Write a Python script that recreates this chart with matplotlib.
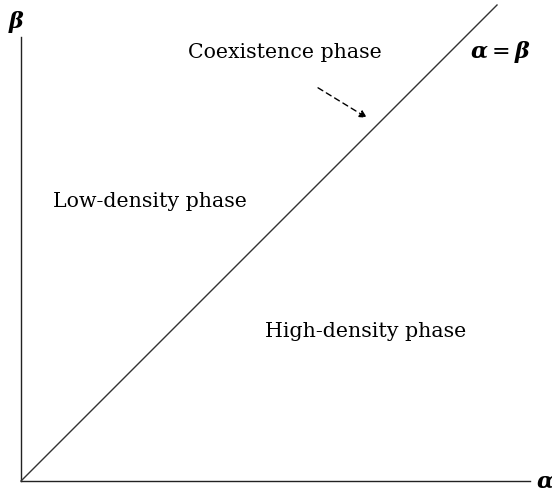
import matplotlib
matplotlib.use('Agg')
import matplotlib.pyplot as plt

plt.rcParams['mathtext.fontset'] = 'dejavuserif'

# phase boundary alpha = beta
boundary_alpha = [0.0, 1.0]
boundary_beta = [0.0, 1.0]

axis_end_x = 1.069
axis_end_y = 0.933

region_labels = ['Low-density phase', 'High-density phase', 'Coexistence phase']
region_pos = [(0.271, 0.588), (0.723, 0.315), (0.555, 0.901)]

arrow_start = (0.624, 0.826)
arrow_end = (0.727, 0.763)

fig = plt.figure(figsize=(5.52, 4.94), dpi=100)
ax = fig.add_axes([0, 0, 1, 1])
ax.set_xlim(-0.0441, 1.1155)
ax.set_ylim(-0.0273, 1.0105)
ax.axis('off')

font = 'DejaVu Serif'

ax.plot([0, axis_end_x], [0, 0], color='#222222', lw=1.0)
ax.plot([0, 0], [0, axis_end_y], color='#222222', lw=1.0)
ax.plot(boundary_alpha, boundary_beta, color='#333333', lw=1.0)

for label, (x, y) in zip(region_labels, region_pos):
    ax.text(x, y, label, ha='center', va='center', fontsize=14.8, family=font)

ax.annotate('', xy=arrow_end, xytext=arrow_start,
            arrowprops=dict(arrowstyle='-|>', linestyle=(0, (4, 3)), color='black',
                            lw=1.0, mutation_scale=11, shrinkA=0, shrinkB=0))

ax.text(-0.0084, 0.964, r'$\boldsymbol{\beta}$', ha='center', va='center', fontsize=16)
ax.text(1.101, -0.002, r'$\boldsymbol{\alpha}$', ha='center', va='center', fontsize=16)
ax.text(1.006, 0.901, r'$\boldsymbol{\alpha} = \boldsymbol{\beta}$', ha='center',
        va='center', fontsize=16)

fig.savefig('out.png', dpi=100)
